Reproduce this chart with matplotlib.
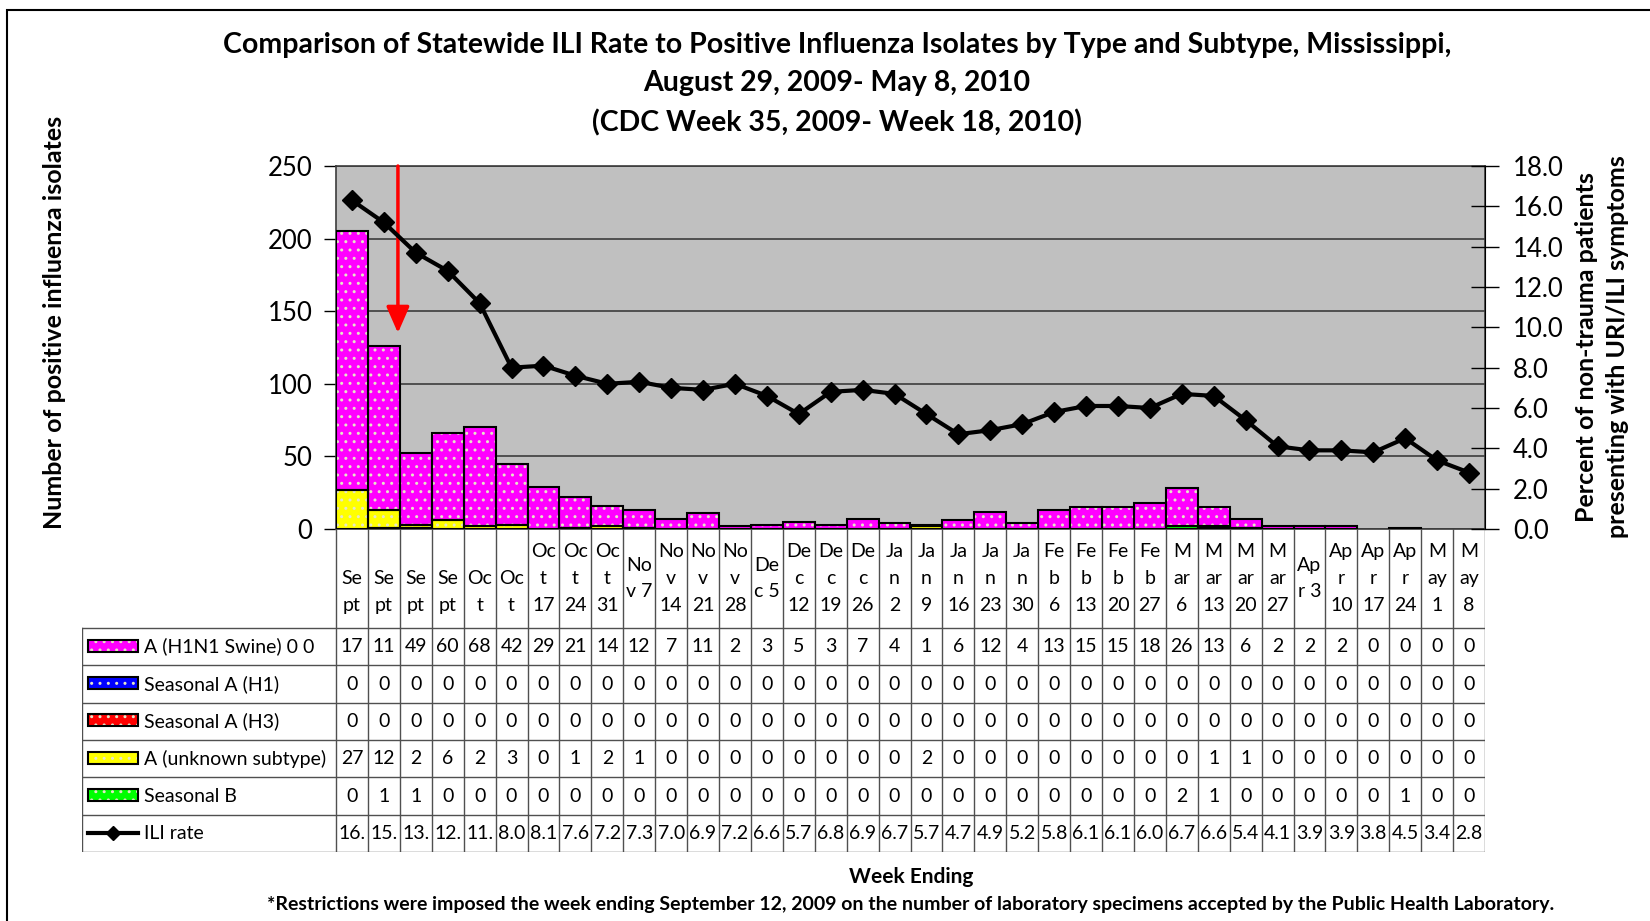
import numpy as np
import matplotlib.pyplot as plt
from matplotlib.patches import Rectangle

plt.rcParams['font.family'] = ['Lato', 'DejaVu Sans']

# Datos (semana que termina)
semanas = ["\nSe\npt", "\nSe\npt", "\nSe\npt", "\nSe\npt", "\nOc\nt", "\nOc\nt",
           "Oc\nt\n17", "Oc\nt\n24", "Oc\nt\n31", "No\nv 7", "No\nv\n14", "No\nv\n21",
           "No\nv\n28", "De\nc 5", "De\nc\n12", "De\nc\n19", "De\nc\n26", "Ja\nn\n2",
           "Ja\nn\n9", "Ja\nn\n16", "Ja\nn\n23", "Ja\nn\n30", "Fe\nb\n6", "Fe\nb\n13",
           "Fe\nb\n20", "Fe\nb\n27", "M\nar\n6", "M\nar\n13", "M\nar\n20", "M\nar\n27",
           "Ap\nr 3", "Ap\nr\n10", "Ap\nr\n17", "Ap\nr\n24", "M\nay\n1", "M\nay\n8"]

h1n1 = [178, 113, 49, 60, 68, 42, 29, 21, 14, 12, 7, 11, 2, 3, 5, 3, 7, 4, 1, 6,
        12, 4, 13, 15, 15, 18, 26, 13, 6, 2, 2, 2, 0, 0, 0, 0]
seas_h1 = [0, 0, 0, 0, 0, 0, 0, 0, 0, 0, 0, 0, 0, 0, 0, 0, 0, 0, 0, 0,
           0, 0, 0, 0, 0, 0, 0, 0, 0, 0, 0, 0, 0, 0, 0, 0]
seas_h3 = [0, 0, 0, 0, 0, 0, 0, 0, 0, 0, 0, 0, 0, 0, 0, 0, 0, 0, 0, 0,
           0, 0, 0, 0, 0, 0, 0, 0, 0, 0, 0, 0, 0, 0, 0, 0]
a_desc = [27, 12, 2, 6, 2, 3, 0, 1, 2, 1, 0, 0, 0, 0, 0, 0, 0, 0, 2, 0,
          0, 0, 0, 0, 0, 0, 0, 1, 1, 0, 0, 0, 0, 0, 0, 0]
seas_b = [0, 1, 1, 0, 0, 0, 0, 0, 0, 0, 0, 0, 0, 0, 0, 0, 0, 0, 0, 0,
          0, 0, 0, 0, 0, 0, 2, 1, 0, 0, 0, 0, 0, 1, 0, 0]
ili = [16.3, 15.2, 13.7, 12.8, 11.2, 8.0, 8.1, 7.6, 7.2, 7.3, 7.0, 6.9, 7.2,
       6.6, 5.7, 6.8, 6.9, 6.7, 5.7, 4.7, 4.9, 5.2, 5.8, 6.1, 6.1, 6.0, 6.7,
       6.6, 5.4, 4.1, 3.9, 3.9, 3.8, 4.5, 3.4, 2.8]

nombres = ["A (H1N1 Swine) 0 0", "Seasonal A (H1)", "Seasonal A (H3)",
           "A (unknown subtype)", "Seasonal B", "ILI rate"]
colores = ["#ff00ff", "#0000ff", "#ff0000", "#ffff00", "#00ff00"]

# Disposición (en píxeles de la figura)
W, H = 1650, 921
x0, x1, y0, y1 = 336, 1485, 166, 529     # área del gráfico
tx0, ty1 = 82, 852                        # tabla
alto_cab = 99
n = len(semanas)
x = np.arange(n)

fig = plt.figure(figsize=(W / 100, H / 100), dpi=100)
ax = fig.add_axes([x0 / W, 1 - y1 / H, (x1 - x0) / W, (y1 - y0) / H])
ax.set_facecolor("#c0c0c0")

# Barras apiladas (de abajo hacia arriba: B, desconocido, H3, H1, H1N1)
pila = [(seas_b, colores[4]), (a_desc, colores[3]), (seas_h3, colores[2]),
        (seas_h1, colores[1]), (h1n1, colores[0])]
base = np.zeros(n)
for vals, col in pila:
    v = np.array(vals, dtype=float)
    m = v > 0
    ax.bar(x[m], v[m], width=1.0, bottom=base[m], color=col, edgecolor="#e6e6c8",
           hatch="..", linewidth=0, zorder=2)
    ax.bar(x[m], v[m], width=1.0, bottom=base[m], facecolor="none",
           edgecolor="black", linewidth=1.5, zorder=3)
    base += v

ax.set_xlim(-0.5, n - 0.5)
ax.set_ylim(0, 250)
ax.set_yticks(np.arange(0, 251, 50))
ax.set_xticks([])
ax.grid(axis="y", color="#3c3c3c", linewidth=1.2)
ax.set_axisbelow(True)
ax.tick_params(axis="y", length=9, width=1, pad=8, labelsize=18.5)
for s in ax.spines.values():
    s.set_color("#3c3c3c")
    s.set_linewidth(1.2)

# Flecha roja (restricciones)
ax.annotate("", xy=(1.44, 135), xytext=(1.44, 250),
            arrowprops=dict(arrowstyle="-|>,head_length=0.8,head_width=0.35",
                            color="red", lw=2.5, shrinkA=0, shrinkB=0,
                            mutation_scale=20), zorder=6)

# Tasa ILI
ax2 = ax.twinx()
ax2.plot(x, ili, color="black", linewidth=3, marker="D", markersize=10, zorder=5)
ax2.set_ylim(0, 18)
ax2.set_yticks(np.arange(0, 18.1, 2))
ax2.set_yticklabels([f"{t:.1f}" for t in np.arange(0, 18.1, 2)])
ax2.tick_params(axis="y", direction="inout", length=20, width=1, pad=10, labelsize=18.5)
for s in ax2.spines.values():
    s.set_visible(False)
ax2.spines["right"].set_visible(True)
ax2.spines["right"].set_color("black")

# Tabla de datos
tab = fig.add_axes([tx0 / W, 1 - ty1 / H, (x1 - tx0) / W, (ty1 - y1) / H])
colw = (x1 - x0) / n
xl = -0.5 - (x0 - tx0) / colw
tab.set_xlim(xl, n - 0.5)
tab.set_ylim(ty1 - y1, 0)
tab.axis("off")
alto_fila = (ty1 - y1 - alto_cab) / 6
lc = "#505050"
fs = 14

for i in range(n + 1):
    tab.plot([i - 0.5, i - 0.5], [0, ty1 - y1], color=lc, lw=1)
for k in range(7):
    yy = alto_cab + k * alto_fila
    tab.plot([xl, n - 0.5], [yy, yy], color=lc, lw=1)
tab.plot([xl, xl], [alto_cab, ty1 - y1], color=lc, lw=1)

for i, lab in enumerate(semanas):
    tab.text(i, alto_cab / 2, lab, ha="center", va="center", fontsize=fs,
             linespacing=1.7)

filas = [h1n1, seas_h1, seas_h3, a_desc, seas_b]
for k, vals in enumerate(filas):
    yc = alto_cab + (k + 0.5) * alto_fila
    for i, v in enumerate(vals):
        tab.text(i, yc, str(v)[:2], ha="center", va="center", fontsize=fs)
yc = alto_cab + 5.5 * alto_fila
for i, v in enumerate(ili):
    tab.text(i, yc, f"{v:.1f}"[:3], ha="center", va="center", fontsize=fs)

# Leyenda dentro de la tabla
sw0 = xl + 6 / colw
sw_w = 50 / colw
for k, nom in enumerate(nombres):
    yc = alto_cab + (k + 0.5) * alto_fila
    if k < 5:
        tab.add_patch(Rectangle((sw0, yc - 7), sw_w, 12, facecolor=colores[k],
                                edgecolor="#e6e6c8", hatch="..", linewidth=0))
        tab.add_patch(Rectangle((sw0, yc - 7), sw_w, 12, facecolor="none",
                                edgecolor="black", linewidth=1.5))
    else:
        tab.plot([sw0, sw0 + sw_w], [yc, yc], color="black", lw=3)
        tab.plot([sw0 + sw_w / 2], [yc], marker="D", color="black", ms=7)
    tab.text(sw0 + sw_w + 6 / colw, yc, nom, ha="left", va="center", fontsize=fs)

# Textos
tit = dict(ha="center", va="center", fontsize=20.5, fontweight="bold")
fig.text(837 / W, 1 - 45 / H,
         "Comparison of Statewide ILI Rate to Positive Influenza Isolates by Type and Subtype, Mississippi,",
         **tit)
fig.text(837 / W, 1 - 83 / H, "August 29, 2009- May 8, 2010", **tit)
fig.text(837 / W, 1 - 123 / H, "(CDC Week 35, 2009- Week 18, 2010)", **tit)
fig.text(55 / W, 1 - 322 / H, "Number of positive influenza isolates", rotation=90,
         ha="center", va="center", fontsize=18, fontweight="bold")
fig.text(1602 / W, 1 - 347 / H,
         "Percent of non-trauma patients\npresenting with URI/ILI symptoms",
         rotation=90, ha="center", va="center", fontsize=18, fontweight="bold",
         linespacing=1.45)
fig.text(911 / W, 1 - 877 / H, "Week Ending", ha="center", va="center",
         fontsize=15, fontweight="bold")
fig.text(911 / W, 1 - 904 / H,
         "*Restrictions were imposed the week ending September 12, 2009 on the number of laboratory specimens accepted by the Public Health Laboratory.",
         ha="center", va="center", fontsize=14, fontweight="bold")

# Marco exterior
fig.add_artist(Rectangle((7 / W, -0.1), 2, 1.1 - 10 / H, transform=fig.transFigure,
                         fill=False, edgecolor="black", linewidth=1.5))

fig.savefig("out.png", dpi=100)
